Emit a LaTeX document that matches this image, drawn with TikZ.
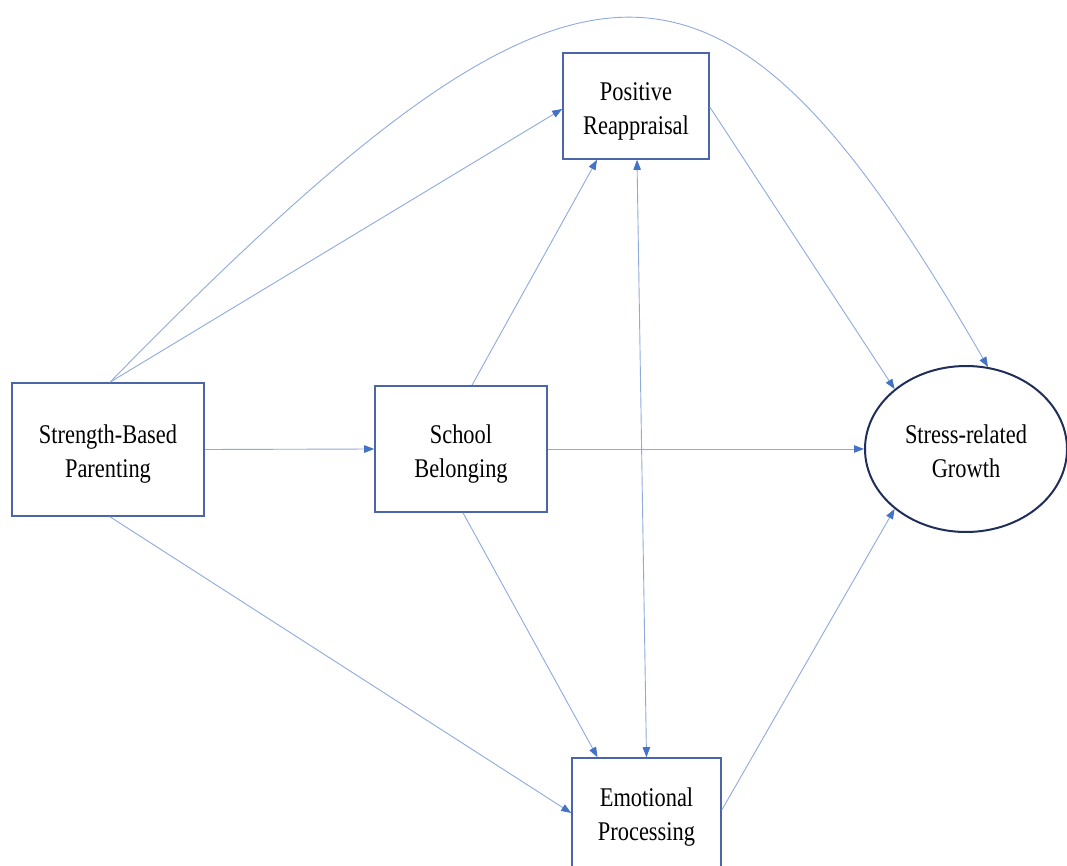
\documentclass[tikz,border=0pt]{standalone}
\usepackage{fontspec}
\setmainfont[FakeStretch=0.83]{Liberation Serif}
\usetikzlibrary{shapes.geometric,arrows.meta,calc}
\definecolor{lineblue}{HTML}{8FAADC}
\definecolor{tipblue}{HTML}{4472C4}
\definecolor{boxblue}{HTML}{4A65A8}
\definecolor{navy}{HTML}{1F2F5A}
\tikzset{
  mytip/.tip={Triangle[length=10pt,width=7.5pt,color=tipblue]},
  lbl/.style={align=center, inner sep=0pt, font=\fontsize{27}{34}\selectfont},
  box/.style={draw=boxblue, line width=1.6pt, rectangle, inner sep=0pt},
  oval/.style={draw=navy, line width=2pt, ellipse, inner sep=0pt,
    minimum width=202pt, minimum height=166pt},
  conn/.style={draw=lineblue, line width=0.9pt, -mytip},
  dconn/.style={draw=lineblue, line width=0.9pt, mytip-mytip},
}
\begin{document}
\begin{tikzpicture}[x=1pt,y=-1pt]
\useasboundingbox (0,0) rectangle (1067,866);
\fill[white] (0,0) rectangle (1067,866);

\node[box, minimum width=192pt, minimum height=133pt,
  label={[lbl,yshift=-5pt]center:Strength-Based\\Parenting}] (SBP) at (108,449.5) {};
\node[box, minimum width=172pt, minimum height=126pt,
  label={[lbl,yshift=-5pt]center:School\\Belonging}] (SB) at (461,449) {};
\node[box, minimum width=146pt, minimum height=106pt,
  label={[lbl,yshift=-5pt]center:Positive\\Reappraisal}] (PR) at (636,106) {};
\node[box, minimum width=149pt, minimum height=110pt,
  label={[lbl,yshift=-4pt]center:Emotional\\Processing}] (EP) at (646.5,813) {};
\node[oval, label={[lbl,yshift=-2pt]center:Stress-related\\Growth}] (SRG) at (966,449) {};

% connectors
\draw[conn] (SBP.east) -- (SB.west);
\draw[conn] ([xshift=2pt]SBP.north) -- ([yshift=-3pt]PR.west);
\draw[conn] ([xshift=2pt]SBP.north) .. controls (583,-101) and (718,-100) .. (SRG.75);
\draw[conn] ([xshift=2pt]SBP.south) -- (EP.west);
\draw[conn] ([xshift=11pt]SB.north) -- ([xshift=-39pt]PR.south);
\draw[conn] ([xshift=2pt]SB.south) -- ([xshift=-49pt]EP.north);
\draw[conn] (SB.east) -- (SRG.west);
\draw[conn] ([yshift=-1pt]PR.east) -- (SRG.140);
\draw[conn] ([yshift=3pt]EP.east) -- (SRG.220);
\draw[dconn] ([xshift=1pt]PR.south) -- (EP.north);
\end{tikzpicture}
\end{document}
